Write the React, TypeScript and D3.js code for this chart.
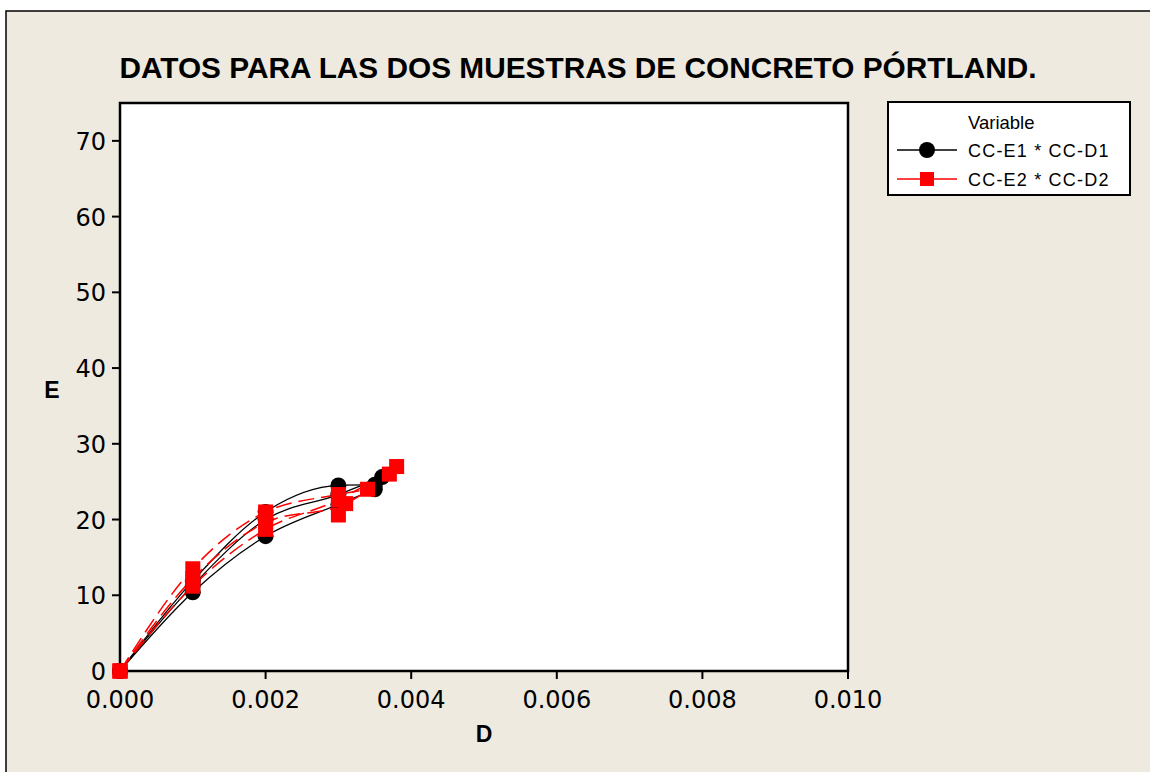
import React from 'react';
import * as d3 from 'd3';

// black series: CC-E1 * CC-D1, three specimens
const d1Runs: number[][] = [
  [0, 0.001, 0.002, 0.003, 0.0035],
  [0, 0.001, 0.002, 0.003, 0.0036],
  [0, 0.001, 0.002, 0.003, 0.0035],
];
const e1Runs: number[][] = [
  [0, 10.4, 17.8, 22.0, 24.0],
  [0, 11.3, 20.0, 23.3, 25.6],
  [0, 11.9, 21.0, 24.5, 24.6],
];

// red series: CC-E2 * CC-D2
const d2Runs: number[][] = [
  [0, 0.001, 0.002, 0.003, 0.0034],
  [0, 0.001, 0.002, 0.0031, 0.0037],
  [0, 0.001, 0.002, 0.003, 0.0038],
  [0.003],
];
const e2Runs: number[][] = [
  [0, 13.5, 21.0, 23.3, 24.0],
  [0, 12.2, 19.6, 22.1, 26.0],
  [0, 11.2, 18.7, 22.6, 27.0],
  [20.6],
];

const xTicks = [0, 0.002, 0.004, 0.006, 0.008, 0.01];
const yTicks = [0, 10, 20, 30, 40, 50, 60, 70];
const seriesNames = ['CC-E1 * CC-D1', 'CC-E2 * CC-D2'];

const W = 1150;
const H = 772;
const left = 120, right = 848, top = 103, bottom = 671;
const font = 'Liberation Sans, Arial, sans-serif';
const tickFont = 'DejaVu Sans, Verdana, sans-serif';

export default function App() {
  const x = d3.scaleLinear().domain([0, 0.01]).range([left, right]);
  const y = d3.scaleLinear().domain([0, 75]).range([bottom, top]);
  const line = d3
    .line<[number, number]>()
    .x((d) => x(d[0]))
    .y((d) => y(d[1]))
    .curve(d3.curveMonotoneX);

  const runs1 = d1Runs.map((ds, i) => ds.map((d, j) => [d, e1Runs[i][j]] as [number, number]));
  const runs2 = d2Runs.map((ds, i) => ds.map((d, j) => [d, e2Runs[i][j]] as [number, number]));

  return (
    <svg width={W} height={H} style={{ position: 'absolute', left: 0, top: 0 }}>
      <rect x={0} y={0} width={W} height={H} fill="#fff" />
      <rect x={6} y={11} width={W + 10} height={H + 10} fill="#EEEAE0" stroke="#000" strokeWidth={1.5} />
      <text x={578} y={78} textAnchor="middle" fontFamily={font} fontWeight="bold" fontSize={29.8}>
        DATOS PARA LAS DOS MUESTRAS DE CONCRETO PÓRTLAND.
      </text>
      <rect x={left} y={top} width={right - left} height={bottom - top} fill="#fff" stroke="#000" strokeWidth={2.5} />
      {xTicks.map((t) => (
        <g key={'x' + t}>
          <line x1={x(t)} x2={x(t)} y1={bottom} y2={bottom + 8} stroke="#000" strokeWidth={2} />
          <text x={x(t)} y={708} textAnchor="middle" fontFamily={tickFont} fontSize={24}>
            {d3.format('.3f')(t)}
          </text>
        </g>
      ))}
      {yTicks.map((t) => (
        <g key={'y' + t}>
          <line x1={left - 8} x2={left} y1={y(t)} y2={y(t)} stroke="#000" strokeWidth={2} />
          <text x={106} y={y(t) + 9} textAnchor="end" fontFamily={tickFont} fontSize={24}>
            {t}
          </text>
        </g>
      ))}
      <text x={484} y={742} textAnchor="middle" fontFamily={font} fontWeight="bold" fontSize={23}>D</text>
      <text x={52} y={398} textAnchor="middle" fontFamily={font} fontWeight="bold" fontSize={23}>E</text>

      <g>
        {runs1.map((r, i) => (
          <path key={'l1' + i} d={line(r) || ''} fill="none" stroke="#000" strokeWidth={1.3} />
        ))}
        {runs2.map((r, i) => (
          <path key={'l2' + i} d={line(r) || ''} fill="none" stroke="#f00" strokeWidth={1.5} strokeDasharray="16 7" />
        ))}
        {runs1.flat().map((p, i) => (
          <circle key={'c' + i} cx={x(p[0])} cy={y(p[1])} r={8} fill="#000" />
        ))}
        {runs2.flat().map((p, i) => (
          <rect key={'s' + i} x={x(p[0]) - 7.5} y={y(p[1]) - 7.5} width={15} height={15} fill="#f00" />
        ))}
      </g>

      <rect x={888} y={102} width={242} height={93} fill="#fff" stroke="#000" strokeWidth={2} />
      <text x={968} y={129} fontFamily={font} fontSize={18.5}>Variable</text>
      {seriesNames.map((n, i) => {
        const ly = 150 + i * 29;
        return (
          <g key={n}>
            <line x1={897} x2={957} y1={ly} y2={ly} stroke={i === 0 ? '#000' : '#f00'} strokeWidth={1.5} />
            {i === 0 ? (
              <circle cx={927} cy={ly} r={8} fill="#000" />
            ) : (
              <rect x={920} y={ly - 7} width={14} height={14} fill="#f00" />
            )}
            <text x={968} y={ly + 7} fontFamily={font} fontSize={18} letterSpacing={1.2}>
              {n}
            </text>
          </g>
        );
      })}
    </svg>
  );
}
